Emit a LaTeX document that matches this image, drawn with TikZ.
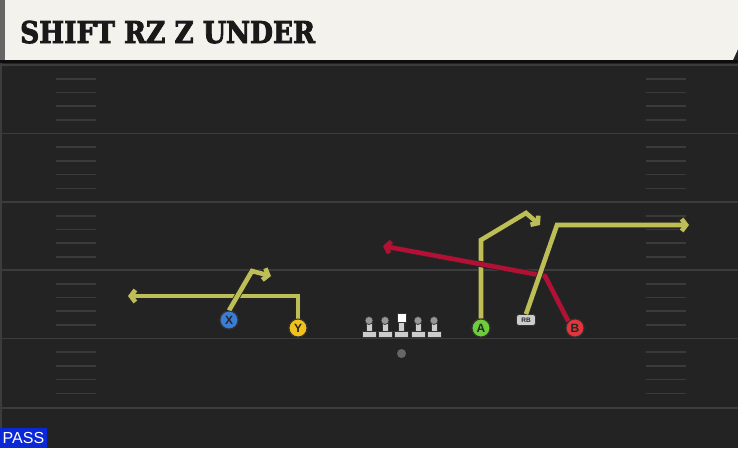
\documentclass[tikz,border=0pt]{standalone}
\usepackage{fontspec}
\usepackage{tikz}
\usetikzlibrary{arrows.meta}
\setsansfont{Liberation Sans}
\newfontfamily\titlefont[BoldFeatures={FakeBold=3}]{DejaVu Serif}

\begin{document}
\begin{tikzpicture}[x=1pt,y=-1pt,
  route/.style={draw=routeColor,line width=4.6pt,line join=miter,
    -{Straight Barb[length=4.5pt,width=12pt]},
    preaction={draw=black!85,line width=6.2pt}},
  playerdot/.style={circle,draw=black!80,line width=1pt,minimum size=18pt,inner sep=0pt,
    text=black!85,font=\sffamily\bfseries\fontsize{12}{12}\selectfont}]
\definecolor{fieldColor}{RGB}{35,35,35}
\definecolor{lineColor}{RGB}{60,60,60}
\definecolor{hashColor}{RGB}{58,58,58}
\definecolor{headColor}{RGB}{244,242,236}
\definecolor{routeColor}{RGB}{190,190,86}
\definecolor{redRoute}{RGB}{178,16,52}
\definecolor{xColor}{RGB}{58,125,214}
\definecolor{yColor}{RGB}{242,194,28}
\definecolor{aColor}{RGB}{108,206,58}
\definecolor{bColor}{RGB}{226,54,60}
\definecolor{olColor}{RGB}{205,205,205}
\definecolor{olHead}{RGB}{150,150,150}
\definecolor{passColor}{RGB}{10,40,214}
\path[use as bounding box,fill=fieldColor] (0,0) rectangle (738,448);

% field
\path[fill=lineColor] (0,60) rectangle (2,448);
\foreach \y in {65,133.5,202,270,338.5,408}
  \path[draw=lineColor,line width=1.6pt] (0,\y) -- (738,\y);
\foreach \y in {65,133.5,202,270,338.5} {
  \foreach \k in {1,2,3,4} {
    \path[draw=hashColor,line width=1.6pt] (56,\y+\k*13.7) -- (96,\y+\k*13.7);
    \path[draw=hashColor,line width=1.6pt] (646,\y+\k*13.7) -- (686,\y+\k*13.7);
  }
}

% header
\path[fill=headColor] (0,0) -- (738,0) -- (738,49) -- (733,60) -- (0,60) -- cycle;
\path[fill=black!60] (0,0) rectangle (5,60);
\path[fill=black!95] (0,60) rectangle (738,63);
\node[anchor=base west,inner sep=0pt,text=black!90,xscale=0.88,
  font=\titlefont\bfseries\fontsize{30}{30}\selectfont] (title) at (20,43) {SHIFT RZ Z UNDER};

% players
\node[playerdot,fill=xColor] (X) at (229,320) {X};
\node[playerdot,fill=yColor] (Y) at (298,328) {Y};
\node[playerdot,fill=aColor] (A) at (481,328) {A};
\node[playerdot,fill=bColor] (B) at (575,328) {B};
\node[draw=black!80,fill=olColor,rounded corners=2.5pt,line width=0.8pt,minimum width=19pt,minimum height=11pt,
  inner sep=0pt,text=black!85,font=\sffamily\bfseries\fontsize{6.5}{6.5}\selectfont] (RB) at (526,320) {RB};

% line
\foreach \x in {369,385,401,418,434} {
  \path[draw=black!80,fill=olColor,line width=0.7pt] (\x-3,321) rectangle (\x+3,333);
  \path[draw=black!80,fill=olColor,line width=0.7pt] (\x-7,331.5) rectangle (\x+7,337);
}
\foreach \x in {369,385,418,434}
  \path[draw=black!80,fill=olHead,line width=0.7pt] (\x,320.5) circle[radius=4];
\path[draw=black!80,fill=white,line width=0.7pt] (397,313) rectangle (406,322);
\node[circle,fill=gray!80!black,inner sep=0pt,minimum size=9pt] (ball) at (401.5,353.5) {};

% routes
\coordinate (ycut) at (298,296);
\coordinate (yend) at (128,296);
\coordinate (xcut) at (252,271);
\coordinate (xend) at (271,276);
\coordinate (acut) at (481,240);
\coordinate (apeak) at (526,213);
\coordinate (aend) at (540,225);
\coordinate (rbcut) at (557,225);
\coordinate (rbend) at (689,225);
\coordinate (bcut) at (545,276);
\coordinate (bend) at (383,246);

\draw[route] (Y.north) -- (ycut) -- (yend);
\draw[route] (X.north) -- (xcut) -- (xend);
\draw[route] (A.north) -- (acut) -- (apeak) -- (aend);
\draw[route,draw=redRoute] (B.north west) -- (bcut) -- (bend);
\draw[route] (RB.north) -- (rbcut) -- (rbend);

% players on top
\node[playerdot,fill=xColor] at (X) {X};
\node[playerdot,fill=yColor] at (Y) {Y};
\node[playerdot,fill=aColor] at (A) {A};
\node[playerdot,fill=bColor] at (B) {B};

% play type
\node[anchor=south west,fill=passColor,text=white,inner sep=2.5pt,minimum height=20pt,minimum width=46pt,
  font=\sffamily\fontsize{16}{16}\selectfont] (pass) at (0,448) {PASS};
\end{tikzpicture}
\end{document}
